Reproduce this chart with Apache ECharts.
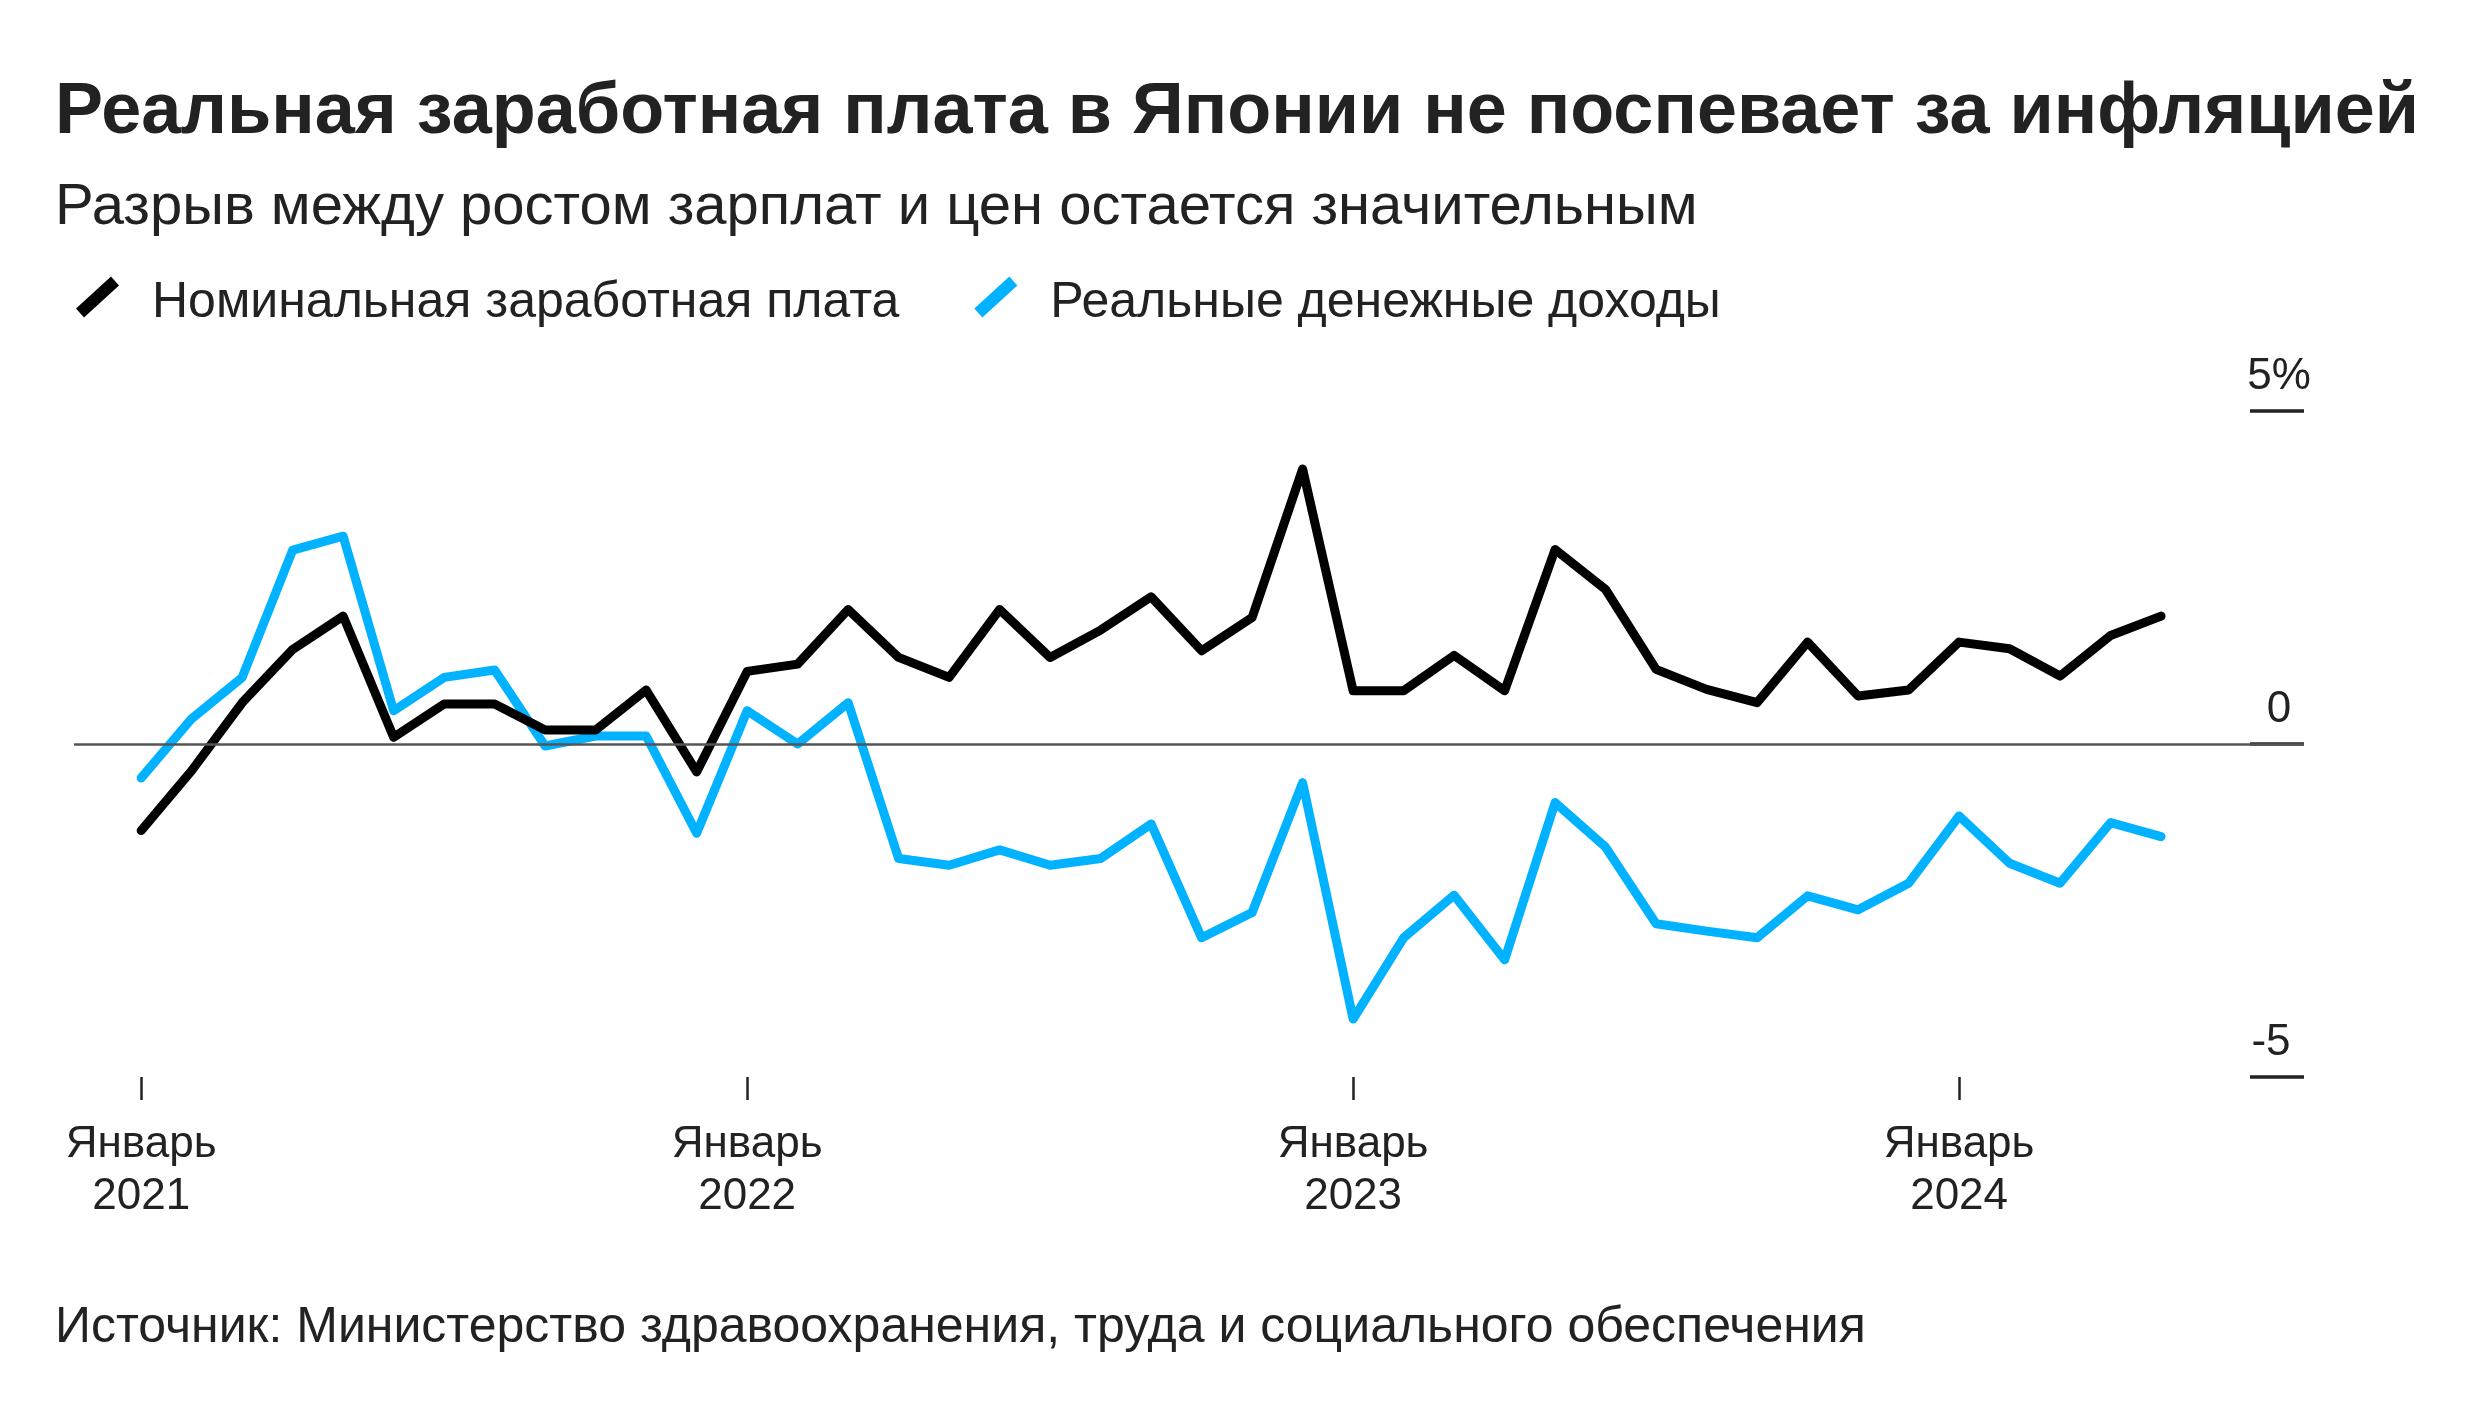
<!DOCTYPE html>
<html><head><meta charset="utf-8">
<script src="https://cdn.jsdelivr.net/npm/echarts@6/dist/echarts.min.js"></script>
<style>html,body{margin:0;padding:0;background:#fff}#c{width:2480px;height:1418px}</style>
</head><body><div id="c"></div>
<script>
// ---- data ----
const months = [
  '2021-01','2021-02','2021-03','2021-04','2021-05','2021-06','2021-07','2021-08','2021-09','2021-10','2021-11','2021-12',
  '2022-01','2022-02','2022-03','2022-04','2022-05','2022-06','2022-07','2022-08','2022-09','2022-10','2022-11','2022-12',
  '2023-01','2023-02','2023-03','2023-04','2023-05','2023-06','2023-07','2023-08','2023-09','2023-10','2023-11','2023-12',
  '2024-01','2024-02','2024-03','2024-04','2024-05'
];
const nominalWages = [-1.3,-0.4,0.62,1.42,1.92,0.1,0.6,0.6,0.21,0.21,0.81,-0.42,
  1.09,1.2,2.02,1.3,1.0,2.02,1.3,1.71,2.21,1.4,1.9,4.13,
  0.8,0.8,1.33,0.8,2.92,2.32,1.12,0.82,0.62,1.53,0.72,0.81,
  1.53,1.43,1.02,1.63,1.92];
const realIncome = [-0.51,0.38,1.0,2.91,3.12,0.5,1.0,1.11,-0.03,0.12,0.12,-1.34,
  0.5,0.0,0.62,-1.72,-1.82,-1.59,-1.82,-1.72,-1.2,-2.91,-2.53,-0.58,
  -4.13,-2.91,-2.27,-3.24,-0.88,-1.55,-2.7,-2.81,-2.91,-2.28,-2.49,-2.09,
  -1.08,-1.79,-2.09,-1.18,-1.39];
const seriesNames = ['Номинальная заработная плата','Реальные денежные доходы'];
const xTickMonths = ['2021-01','2022-01','2023-01','2024-01'];
const xTickLabels = ['Январь\n2021','Январь\n2022','Январь\n2023','Январь\n2024'];
const yTicks = [-5,0,5];
const yTickLabels = ['-5','0','5%'];
const titleText = 'Реальная заработная плата в Японии не поспевает за инфляцией';
const subtitleText = 'Разрыв между ростом зарплат и цен остается значительным';
const sourceText = 'Источник: Министерство здравоохранения, труда и социального обеспечения';

// ---- build ----
const FONT = '"Liberation Sans", Arial, Helvetica, sans-serif';
const xTickIdx = xTickMonths.map(m => months.indexOf(m));
const toPairs = arr => arr.map((v, i) => [i, v]);
const slash = 'path://M1,32.6 L36,0.6 L44,9.4 L9,41.4 Z M0,0 L0.01,0 L0,0.01 Z M72,54 L72.01,54 L72,53.99 Z';

const chart = echarts.init(document.getElementById('c'), null, {renderer: 'canvas'});
chart.setOption({
  backgroundColor: '#fff',
  animation: false,
  title: [
    {text: titleText, left: 55, top: 73, padding: 0,
     textStyle: {fontFamily: FONT, fontSize: 72, fontWeight: 'bold', color: '#222', lineHeight: 80}},
    {text: subtitleText, left: 55, top: 175, padding: 0,
     textStyle: {fontFamily: FONT, fontSize: 58, fontWeight: 'normal', color: '#222', lineHeight: 66}},
    {text: sourceText, left: 55, top: 1300, padding: 0,
     textStyle: {fontFamily: FONT, fontSize: 50, fontWeight: 'normal', color: '#222', lineHeight: 56}}
  ],
  legend: {
    left: 75, top: 276, padding: 0, itemGap: 74,
    itemWidth: 72, itemHeight: 54,
    data: [{name: seriesNames[0], icon: slash}, {name: seriesNames[1], icon: slash}],
    textStyle: {fontFamily: FONT, fontSize: 50, color: '#222'}
  },
  grid: {left: 74, right: 176, top: 411, bottom: 341, containLabel: false},
  xAxis: {
    type: 'value', min: -1.33, max: 42.83,
    axisLine: {show: false, onZero: false},
    splitLine: {show: false},
    axisTick: {show: true, customValues: xTickIdx, length: 23, lineStyle: {color: '#222', width: 2.5}},
    axisLabel: {
      customValues: xTickIdx, margin: 42,
      formatter: v => xTickLabels[xTickIdx.indexOf(v)] || '',
      fontFamily: FONT, fontSize: 44, color: '#222', lineHeight: 52, align: 'center'
    }
  },
  yAxis: {
    type: 'value', position: 'right', min: -5, max: 5, interval: 5,
    axisLine: {show: false, onZero: false},
    splitLine: {show: false},
    axisTick: {show: true, inside: true, length: 54, lineStyle: {color: '#222', width: 3.5}},
    axisLabel: {
      inside: true, margin: 25, align: 'center', verticalAlign: 'bottom', lineHeight: 44,
      padding: [0, 0, 12, 0],
      formatter: v => {
        const t = yTickLabels[yTicks.indexOf(v)] || '';
        return t.charAt(0) === '-' ? '{m|' + t + '}' : t;
      },
      rich: {m: {fontFamily: FONT, fontSize: 44, color: '#222', lineHeight: 44, padding: [0, 16, 0, 0]}},
      fontFamily: FONT, fontSize: 44, color: '#222'
    }
  },
  series: [
    {
      name: seriesNames[1], type: 'line', z: 2,
      data: toPairs(realIncome), showSymbol: false, symbol: 'none',
      color: '#00b2ff', itemStyle: {color: '#00b2ff'},
      lineStyle: {color: '#00b2ff', width: 9, cap: 'round', join: 'round'},
      markLine: {
        silent: true, symbol: ['none', 'none'], label: {show: false},
        lineStyle: {color: '#555', width: 2.5, type: 'solid'},
        data: [{yAxis: 0}]
      }
    },
    {
      name: seriesNames[0], type: 'line', z: 3,
      data: toPairs(nominalWages), showSymbol: false, symbol: 'none',
      color: '#000', itemStyle: {color: '#000'},
      lineStyle: {color: '#000', width: 9, cap: 'round', join: 'round'}
    }
  ]
});
</script></body></html>
